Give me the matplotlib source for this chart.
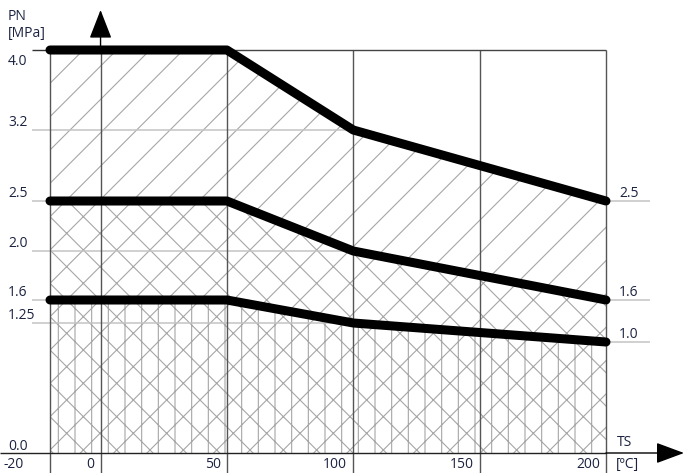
import numpy as np
import matplotlib
matplotlib.use("Agg")
import matplotlib.pyplot as plt

# ---------------- data ----------------
temps = [-20, 50, 100, 200]              # TS [°C]
pn40 = [4.0, 4.0, 3.2, 2.5]              # upper rating curve [MPa]
pn25 = [2.5, 2.5, 2.0, 1.6]              # middle rating curve
pn16 = [1.6, 1.6, 1.25, 1.0]             # lower rating curve
x_ticks = [-20, 0, 50, 100, 150, 200]
x_tick_labels = ["-20", "0", "50", "100", "150", "200"]
y_left_ticks = [4.0, 3.2, 2.5, 2.0, 1.6, 1.25, 0.0]
y_left_labels = ["4.0", "3.2", "2.5", "2.0", "1.6", "1.25", "0.0"]
y_right_ticks = [2.5, 1.6, 1.0]
y_right_labels = ["2.5", "1.6", "1.0"]

# ---------------- non-linear (schematic) pressure axis ----------------
_knot_v = np.array([0.0, 1.0, 1.25, 1.6, 2.0, 2.5, 3.2, 4.0])
_knot_h = np.array([20.0, 131.0, 150.0, 173.0, 222.0, 272.0, 343.0, 423.0])


def _pwl(x, xs, ys):
    x = np.asarray(x, dtype=float)
    shp = x.shape
    x = np.atleast_1d(x).ravel()
    out = np.interp(x, xs, ys)
    lo = x < xs[0]
    hi = x > xs[-1]
    out[lo] = ys[0] + (x[lo] - xs[0]) * (ys[1] - ys[0]) / (xs[1] - xs[0])
    out[hi] = ys[-1] + (x[hi] - xs[-1]) * (ys[-1] - ys[-2]) / (xs[-1] - xs[-2])
    return out.reshape(shp)


def fwd(v):
    return _pwl(v, _knot_v, _knot_h)


def inv(h):
    return _pwl(h, _knot_h, _knot_v)


W, H = 684, 473
fig = plt.figure(figsize=(W / 100, H / 100), dpi=100)
ax = fig.add_axes([0, 0, 1, 1])
ax.set_yscale("function", functions=(fwd, inv))
pxdeg = (606 - 50) / 220.0
ax.set_xlim(-20 - 50 / pxdeg, 200 + (W - 606) / pxdeg)
ax.set_ylim(float(inv(0.0)), float(inv(float(H))))
ax.axis("off")

plt.rcParams["hatch.linewidth"] = 0.8
hcol = "#a6a6a6"
txt_col = "#1c2340"
font = ["Open Sans", "DejaVu Sans"]
fs = 10

# ---------------- hatched areas ----------------
ax.fill_between(temps, pn25, pn40, facecolor="white", edgecolor=hcol,
                linewidth=0, hatch="/", zorder=1)
ax.fill_between(temps, pn16, pn25, facecolor="white", edgecolor=hcol,
                linewidth=0, hatch="x", zorder=1)
ax.fill_between(temps, [0.0] * len(temps), pn16, facecolor="white",
                edgecolor=hcol, linewidth=0, hatch="x|", zorder=1)

# ---------------- grid / frame ----------------
ybot = float(inv(0.0))
xl = -20 - 18 / pxdeg
# light horizontal reference lines
ax.hlines([3.2, 2.0, 1.25], xl, 100, color="#c4c4c4", lw=1.1, zorder=2)
ax.hlines([2.5, 1.6], xl, -20, color="#c4c4c4", lw=1.1, zorder=2)
ax.hlines(y_right_ticks, 200, 200 + 44 / pxdeg, color="#c4c4c4", lw=1.1, zorder=2)
# vertical lines
ax.vlines(x_ticks, ybot, 4.0, color="#555555", lw=1.0, zorder=3)
# top border and left tick at 4.0
ax.hlines(4.0, 50, 200, color="#444444", lw=1.0, zorder=3)
ax.hlines(4.0, xl, -20, color="#333333", lw=1.0, zorder=3)
# x axis line with arrow
xr = ax.get_xlim()
ax.hlines(0.0, xr[0], 200, color="#222222", lw=1.0, zorder=3)
ax.annotate("", xy=(xr[1], 0.0), xytext=(200, 0.0),
            arrowprops=dict(arrowstyle="-|>,head_length=1.75,head_width=0.65",
                            color="black", lw=1.0, shrinkA=0, shrinkB=0,
                            mutation_scale=10), zorder=4)
# y axis arrow at 0 °C
ax.annotate("", xy=(0, float(inv(463.0))), xytext=(0, 4.0),
            arrowprops=dict(arrowstyle="-|>,head_length=1.8,head_width=0.7",
                            color="black", lw=1.0, shrinkA=0, shrinkB=0,
                            mutation_scale=10), zorder=4)

# ---------------- rating curves ----------------
for ys in (pn40, pn25, pn16):
    ax.plot(temps, ys, color="black", lw=6.5, solid_capstyle="round",
            solid_joinstyle="round", zorder=5)

# ---------------- texts ----------------
xlab = -20 - 42 / pxdeg
for v, lab in zip(y_left_ticks, y_left_labels):
    dy = -15 if v == 4.0 else (3 if v == 0.0 else 4)
    ax.annotate(lab, xy=(xlab, v), xytext=(0, dy), textcoords="offset pixels",
                ha="left", va="baseline", fontsize=fs, family=font, color=txt_col)
for v, lab in zip(y_right_ticks, y_right_labels):
    ax.annotate(lab, xy=(200, v), xytext=(13, 4), textcoords="offset pixels",
                ha="left", va="baseline", fontsize=fs, family=font, color=txt_col)
for x, lab in zip(x_ticks, x_tick_labels):
    if x == -20:
        ax.annotate(lab, xy=(xlab, 0.0), xytext=(-4, -15), textcoords="offset pixels",
                    ha="left", va="baseline", fontsize=fs, family=font, color=txt_col)
    else:
        ax.annotate(lab, xy=(x, 0.0), xytext=(-6, -15), textcoords="offset pixels",
                    ha="right", va="baseline", fontsize=fs, family=font, color=txt_col)
ax.annotate("TS", xy=(200, 0.0), xytext=(11, 7), textcoords="offset pixels",
            ha="left", va="baseline", fontsize=fs, family=font, color=txt_col)
ax.annotate("[ºC]", xy=(200, 0.0), xytext=(10, -15), textcoords="offset pixels",
            ha="left", va="baseline", fontsize=fs, family=font, color=txt_col)
ax.annotate("PN", xy=(xlab, 4.0), xytext=(0, 30), textcoords="offset pixels",
            ha="left", va="baseline", fontsize=fs, family=font, color=txt_col)
ax.annotate("[MPa]", xy=(xlab, 4.0), xytext=(0, 13), textcoords="offset pixels",
            ha="left", va="baseline", fontsize=fs, family=font, color=txt_col)

fig.savefig("out.png", dpi=100)
